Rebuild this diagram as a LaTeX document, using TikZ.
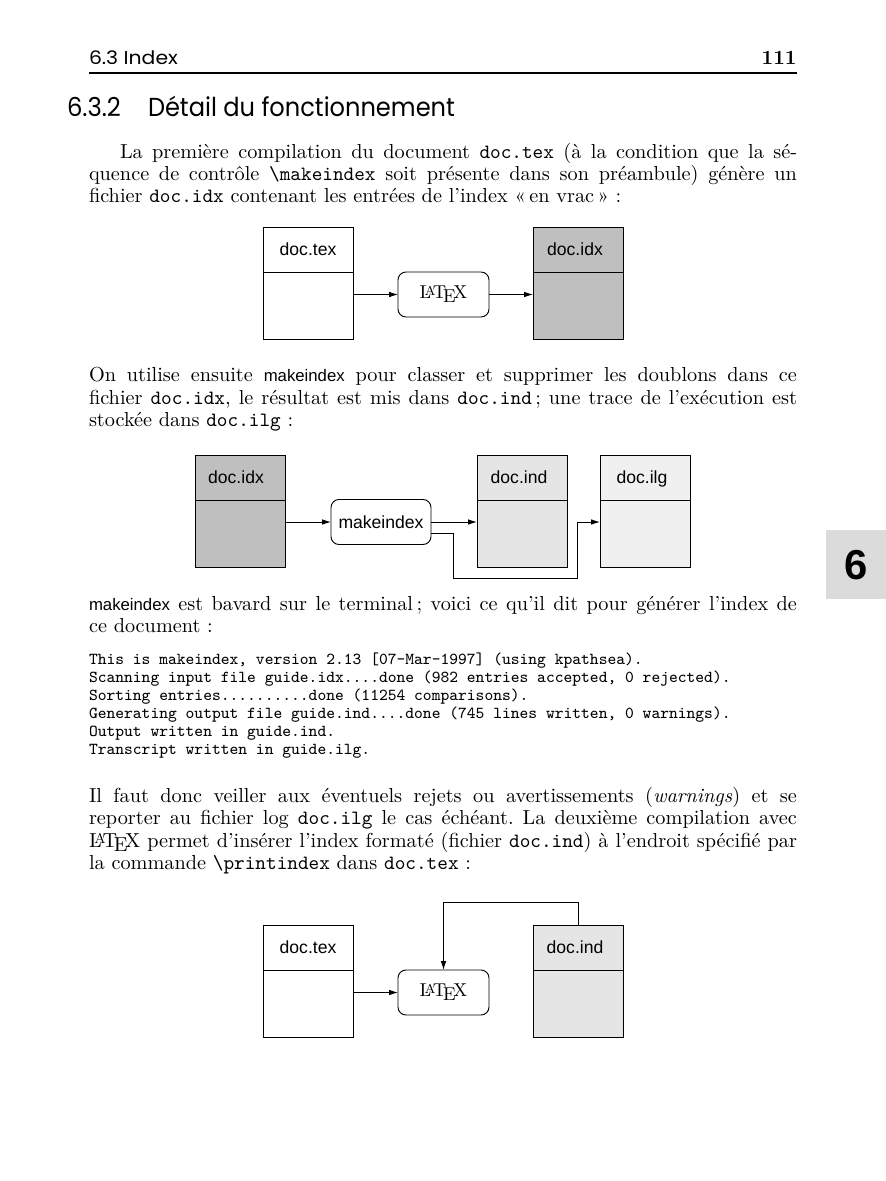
\documentclass[tikz,border=0pt]{standalone}
\usepackage{fontspec}
\setsansfont{Liberation Sans}[Scale=0.9]
\newfontfamily\headfont{Poppins}
\usetikzlibrary{calc,arrows.meta}
\newdimen\upx \upx=0.5376pt
\newcommand\jl[2]{\makebox[#1][s]{#2}}
\newcommand\mkx{{\fontsize{10}{12}\selectfont\sffamily makeindex}}
\frenchspacing
\begin{document}
\begin{tikzpicture}[x=0.5376pt,y=-0.5376pt,
  body/.style={anchor=base west, inner sep=0, outer sep=0, font=\fontsize{10.9}{13}\selectfont\frenchspacing},
  verb/.style={anchor=base west, inner sep=0, outer sep=0, font=\fontsize{9}{10}\selectfont\ttfamily},
  filebox/.style={draw, line width=0.5pt, minimum width=90*\upx, minimum height=112*\upx, inner sep=0, outer sep=0},
  lbl/.style={font=\fontsize{10.5}{12}\selectfont\sffamily, inner sep=0, anchor=base},
  procbox/.style={draw, line width=0.5pt, rounded corners=4.3pt, minimum width=91*\upx, minimum height=45*\upx, inner sep=0, outer sep=0, fill=white, font=\fontsize{10}{12}\selectfont},
  arr/.style={line width=0.5pt, -{Latex[length=4.8pt,width=3pt]}},
  divline/.style={line width=0.5pt}
]
\useasboundingbox (0,0) rectangle (886,1181);
\fill[white] (0,0) rectangle (886,1181);

% running head
\node[body, font=\headfont\fontsize{10}{12}\selectfont] (hdr) at (89,65) {\resizebox{47.8pt}{\height}{6.3 Index}};
\node[anchor=base east, inner sep=0, font=\fontsize{10.9}{13}\selectfont\bfseries] (pg) at (797,65) {111};
\draw[line width=0.6pt] (89,73) -- (797,73);

% section heading
\node[body, font=\headfont\fontsize{14}{16}\selectfont] (hnum) at (67,117) {\resizebox{29pt}{\height}{6.3.2}};
\node[body, font=\headfont\fontsize{14}{16}\selectfont] (htit) at (148,117) {\resizebox{165pt}{\height}{Détail du fonctionnement}};

% paragraph 1
\node[body] (p1a) at (120,158) {\jl{364.0pt}{La première compilation du document \texttt{doc.tex} (à la condition que la sé-}};
\node[body] (p1b) at (89,180.3) {\jl{380.6pt}{quence de contrôle \texttt{\textbackslash makeindex} soit présente dans son préambule) génère un}};
\node[body] (p1c) at (89,202.6) {fichier \texttt{doc.idx} contenant les entrées de l’index «\,en vrac\,»~:};

% diagram 1
\node[filebox] (tex1) at (308,283) {};
\node[lbl] (tex1l) at ($(tex1.north)+(0,28)$) {doc.tex};
\draw[divline] ($(tex1.north west)+(0,45)$) -- ($(tex1.north east)+(0,45)$);
\node[filebox, fill=black!25] (idx1) at (578,283) {};
\node[lbl] (idx1l) at ($(idx1.north)+(-3,28)$) {doc.idx};
\draw[divline] ($(idx1.north west)+(0,45)$) -- ($(idx1.north east)+(0,45)$);
\node[procbox] (lat1) at (443.5,294.5) {\LaTeX};
\draw[arr] (lat1.west -| tex1.east) -- (lat1.west);
\draw[arr] (lat1.east) -- (lat1.east -| idx1.west);

% paragraph 2
\node[body] (p2a) at (89,381.8) {\jl{380.6pt}{On utilise ensuite \mkx{} pour classer et supprimer les doublons dans ce}};
\node[body] (p2b) at (89,404.1) {\jl{380.6pt}{fichier \texttt{doc.idx}, le résultat est mis dans \texttt{doc.ind}\,; une trace de l’exécution est}};
\node[body] (p2c) at (89,426.4) {stockée dans \texttt{doc.ilg}~:};

% diagram 2
\node[filebox, fill=black!25] (idx2) at (240,511) {};
\node[lbl] (idx2l) at ($(idx2.north)+(-4,28)$) {doc.idx};
\draw[divline] ($(idx2.north west)+(0,45)$) -- ($(idx2.north east)+(0,45)$);
\node[procbox, minimum width=100*\upx, font=\fontsize{10.5}{12}\selectfont\sffamily] (mk) at (381,522) {makeindex};
\node[filebox, fill=black!10] (ind2) at (522,511) {};
\node[lbl] (ind2l) at ($(ind2.north)+(-3,28)$) {doc.ind};
\draw[divline] ($(ind2.north west)+(0,45)$) -- ($(ind2.north east)+(0,45)$);
\node[filebox, fill=black!6] (ilg2) at (645,511) {};
\node[lbl] (ilg2l) at ($(ilg2.north)+(-3,28)$) {doc.ilg};
\draw[divline] ($(ilg2.north west)+(0,45)$) -- ($(ilg2.north east)+(0,45)$);
\draw[arr] (mk.west -| idx2.east) -- (mk.west);
\draw[arr] (mk.east) -- (mk.east -| ind2.west);
\coordinate (k1) at (453,578);
\coordinate (k2) at (577,578);
\draw[arr] ($(mk.east)+(0,11)$) -| (k1) -- (k2) |- (ilg2.west |- mk.east);

% thumb tab
\fill[black!14] (826,530) rectangle (886,599);
\node[inner sep=0, font=\fontsize{25}{25}\selectfont\sffamily\bfseries] (tab) at (856,565) {6};

% paragraph 3
\node[body] (p3a) at (89,610.5) {\jl{380.6pt}{\mkx{} est bavard sur le terminal\,; voici ce qu’il dit pour générer l’index de}};
\node[body] (p3b) at (89,632.8) {ce document~:};

% terminal output
\node[verb] (v1) at (89,664.5) {This is makeindex, version 2.13 [07-Mar-1997] (using kpathsea).};
\node[verb] (v2) at (89,682.5) {Scanning input file guide.idx....done (982 entries accepted, 0 rejected).};
\node[verb] (v3) at (89,700.5) {Sorting entries..........done (11254 comparisons).};
\node[verb] (v4) at (89,718.5) {Generating output file guide.ind....done (745 lines written, 0 warnings).};
\node[verb] (v5) at (89,736.5) {Output written in guide.ind.};
\node[verb] (v6) at (89,754.5) {Transcript written in guide.ilg.};

% paragraph 4
\node[body] (p4a) at (89,802.5) {\jl{380.6pt}{Il faut donc veiller aux éventuels rejets ou avertissements (\textit{warnings}) et se}};
\node[body] (p4b) at (89,824.8) {\jl{380.6pt}{reporter au fichier log \texttt{doc.ilg} le cas échéant. La deuxième compilation avec}};
\node[body] (p4c) at (89,847.1) {\jl{380.6pt}{\LaTeX{} permet d’insérer l’index formaté (fichier \texttt{doc.ind}) à l’endroit spécifié par}};
\node[body] (p4d) at (89,869.4) {la commande \texttt{\textbackslash printindex} dans \texttt{doc.tex}~:};

% diagram 3
\node[filebox] (tex3) at (308,981) {};
\node[lbl] (tex3l) at ($(tex3.north)+(0,28)$) {doc.tex};
\draw[divline] ($(tex3.north west)+(0,45)$) -- ($(tex3.north east)+(0,45)$);
\node[filebox, fill=black!10] (ind3) at (578,981) {};
\node[lbl] (ind3l) at ($(ind3.north)+(-3,28)$) {doc.ind};
\draw[divline] ($(ind3.north west)+(0,45)$) -- ($(ind3.north east)+(0,45)$);
\node[procbox] (lat3) at (443.5,992.5) {\LaTeX};
\draw[arr] (lat3.west -| tex3.east) -- (lat3.west);
\coordinate (k3) at (443,902);
\draw[arr] (ind3.north) -- (ind3.north |- k3) -| (lat3.north);
\end{tikzpicture}
\end{document}
